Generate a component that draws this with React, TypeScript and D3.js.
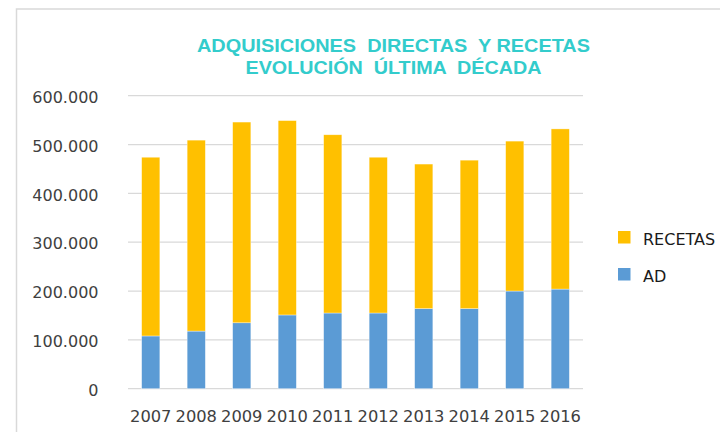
import React, {useEffect, useRef} from 'react';
import * as d3 from 'd3';

const years = ['2007', '2008', '2009', '2010', '2011', '2012', '2013', '2014', '2015', '2016'];
const ad = [108000, 118000, 135000, 151000, 155000, 155000, 164000, 164000, 200000, 204000];
const recetas = [366000, 391000, 411000, 398000, 365000, 319000, 296000, 304000, 307000, 328000];
const yTicks = [0, 100000, 200000, 300000, 400000, 500000, 600000];
const titleLines = ['ADQUISICIONES  DIRECTAS  Y RECETAS', 'EVOLUCIÓN  ÚLTIMA  DÉCADA'];
const seriesNames = ['AD', 'RECETAS'];
const seriesColors = ['#5B9BD5', '#FFC000'];

const W = 720;
const H = 432;
const LABEL_FONT = '"DejaVu Sans", sans-serif';

const App = () => {
    const ref = useRef<SVGSVGElement>(null);

    useEffect(() => {
        document.body.style.margin = '0';
        const svg = d3.select(ref.current);
        svg.selectAll('*').remove();

        const margin = {top: 95.7, left: 128, right: 137, bottom: 43.3};
        const width = W - margin.left - margin.right;
        const height = H - margin.top - margin.bottom;

        // chart frame (only top and left visible in the picture)
        svg.append('rect')
            .attr('x', 16.5).attr('y', 9)
            .attr('width', 720).attr('height', 440)
            .attr('fill', 'none')
            .attr('stroke', '#d9d9d9')
            .attr('stroke-width', 1.5);

        // title
        const title = svg.append('g').attr('font-family', '"Liberation Sans Narrow", "Liberation Sans", Arial, sans-serif')
            .attr('font-weight', 'bold').attr('font-size', 18.5).attr('fill', '#33CCCC');
        const titleWidths = [393, 296];
        titleLines.forEach((t, i) => {
            title.append('text')
                .attr('x', 393.5).attr('y', 52.3 + i * 22)
                .attr('text-anchor', 'middle')
                .attr('textLength', titleWidths[i])
                .attr('lengthAdjust', 'spacingAndGlyphs')
                .attr('xml:space', 'preserve')
                .style('white-space', 'pre')
                .text(t);
        });

        const x = d3.scaleBand().domain(years).range([0, width]).paddingInner(0.6).paddingOuter(0.3);
        const y = d3.scaleLinear().domain([0, 600000]).range([height, 0]);

        const g = svg.append('g').attr('transform', `translate(${margin.left},${margin.top})`);

        // gridlines
        g.append('g').selectAll('line').data(yTicks).enter().append('line')
            .attr('x1', 0).attr('x2', width)
            .attr('y1', d => y(d)).attr('y2', d => y(d))
            .attr('stroke', '#d9d9d9').attr('stroke-width', 1.3);

        // y axis labels
        const fmt = (v: number) => d3.format(',')(v).replace(/,/g, '.');
        g.append('g').selectAll('text').data(yTicks).enter().append('text')
            .attr('x', -29.5).attr('y', d => y(d)).attr('dy', '0.45em')
            .attr('text-anchor', 'end')
            .attr('font-family', LABEL_FONT).attr('font-size', 16).attr('fill', '#404040')
            .text(d => fmt(d));

        // x axis labels
        g.append('g').selectAll('text').data(years).enter().append('text')
            .attr('x', d => (x(d) as number) + x.bandwidth() / 2).attr('y', height + 33)
            .attr('text-anchor', 'middle')
            .attr('font-family', LABEL_FONT).attr('font-size', 16.3).attr('fill', '#404040')
            .text(d => d);

        // stacked bars
        const table = years.map((yr, i) => ({year: yr, AD: ad[i], RECETAS: recetas[i]}));
        const stacked = d3.stack<any>().keys(seriesNames)(table);
        g.append('g').selectAll('g').data(stacked).enter().append('g')
            .attr('fill', (_, i) => seriesColors[i])
            .selectAll('rect').data(d => d).enter().append('rect')
            .attr('x', d => x(d.data.year) as number)
            .attr('width', x.bandwidth())
            .attr('y', d => y(d[1]))
            .attr('height', d => y(d[0]) - y(d[1]))
            .attr('stroke', '#ffffff').attr('stroke-width', 0.6).attr('stroke-opacity', 0.6);

        // legend
        const legend = svg.append('g');
        const legendItems = [{name: 'RECETAS', color: seriesColors[1]}, {name: 'AD', color: seriesColors[0]}];
        legendItems.forEach((it, i) => {
            const ly = 231 + i * 37;
            legend.append('rect').attr('x', 618).attr('y', ly).attr('width', 12.5).attr('height', 12.5).attr('fill', it.color);
            legend.append('text').attr('x', 643).attr('y', ly + 14)
                .attr('font-family', LABEL_FONT).attr('font-size', 16).attr('fill', '#1a1a1a')
                .text(it.name);
        });
    }, []);

    return (
        <div style={{position: 'absolute', left: 0, top: 0}}>
            <svg ref={ref} width={W} height={H} style={{display: 'block', background: '#fff'}}/>
        </div>
    );
};

export default App;
